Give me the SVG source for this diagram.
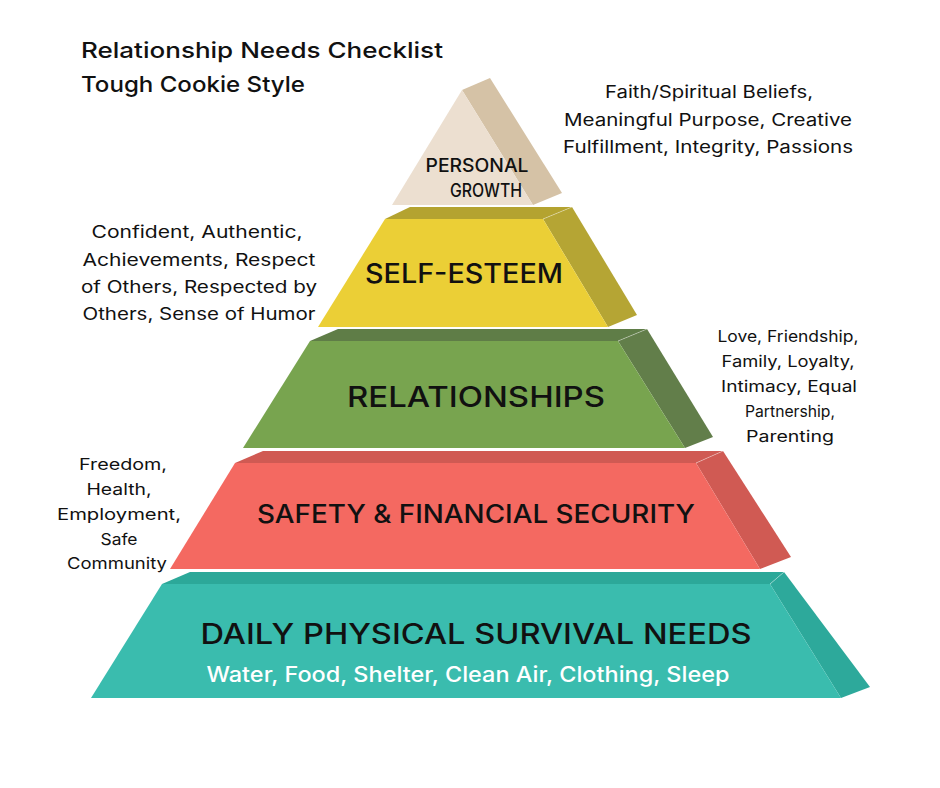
<svg xmlns="http://www.w3.org/2000/svg" width="940" height="788" viewBox="0 0 940 788">
<style>
text{font-family:Inter,"Open Sans","Liberation Sans",sans-serif;fill:#111;}
.t{font-size:22px;font-weight:500;}
.n{font-size:17px;font-weight:400;text-anchor:middle;}
.s{font-size:16px;font-weight:400;text-anchor:middle;}
.lab{font-weight:500;text-anchor:middle;}
.hl{stroke:#ffffff;stroke-opacity:0.35;stroke-width:1;fill:none;}
</style>
<rect width="940" height="788" fill="#ffffff"/>
<g id="title">
<text class="t" x="81" y="58" textLength="362" lengthAdjust="spacingAndGlyphs">Relationship Needs Checklist</text>
<text class="t" x="81" y="92" textLength="224" lengthAdjust="spacingAndGlyphs">Tough Cookie Style</text>
</g>
<g id="daily-survival">
<polygon points="162,584 190,572 784,572 770,584" fill="#2ca899"/>
<polygon points="770,584 784,572 870,687 841,698" fill="#2da99b"/>
<polygon points="162,584 770,584 841,698 91,698" fill="#3abcae"/>
<line class="hl" x1="770" y1="584" x2="784" y2="572"/>
<text class="lab" x="476" y="644" font-size="28" textLength="551" lengthAdjust="spacingAndGlyphs">DAILY PHYSICAL SURVIVAL NEEDS</text>
<text class="lab" x="468" y="682" font-size="21" font-weight="400" style="fill:#ffffff" textLength="523" lengthAdjust="spacingAndGlyphs">Water, Food, Shelter, Clean Air, Clothing, Sleep</text>
</g>
<g id="safety">
<polygon points="235,463 263,451 723,451 696,463" fill="#d05a53"/>
<polygon points="696,463 723,451 791,557 760,569" fill="#d05a53"/>
<polygon points="235,463 696,463 760,569 170,569" fill="#f46961"/>
<line class="hl" x1="696" y1="463" x2="723" y2="451"/>
<text class="lab" x="476" y="523" font-size="25" textLength="438" lengthAdjust="spacingAndGlyphs">SAFETY &amp; FINANCIAL SECURITY</text>
</g>
<g id="relationships">
<polygon points="310,341 338,329 647,329 618,341" fill="#5f7d47"/>
<polygon points="618,341 647,329 713,437 685,448" fill="#627e4a"/>
<polygon points="310,341 618,341 685,448 243,448" fill="#78a44f"/>
<line class="hl" x1="618" y1="341" x2="647" y2="329"/>
<text class="lab" x="476" y="407" font-size="29" textLength="258" lengthAdjust="spacingAndGlyphs">RELATIONSHIPS</text>
</g>
<g id="self-esteem">
<polygon points="385,219 410,207 572,207 543,219" fill="#b4a330"/>
<polygon points="543,219 572,207 637,315 608,327" fill="#b5a534"/>
<polygon points="385,219 543,219 608,327 318,327" fill="#ebcf36"/>
<line class="hl" x1="543" y1="219" x2="572" y2="207"/>
<text class="lab" x="464" y="283" font-size="27" textLength="198" lengthAdjust="spacingAndGlyphs">SELF-ESTEEM</text>
</g>
<g id="personal-growth">
<polygon points="462,90 490,78 562,193 533,205" fill="#d5c2a6"/>
<polygon points="462,90 533,205 392,205" fill="#ecdfd0"/>
<text class="lab" x="477" y="172" font-size="18" textLength="103" lengthAdjust="spacingAndGlyphs">PERSONAL</text>
<text class="lab" x="486" y="197" font-size="18" textLength="72" lengthAdjust="spacingAndGlyphs">GROWTH</text>
</g>
<g id="growth-notes">
<text class="n" x="709" y="98" textLength="208" lengthAdjust="spacingAndGlyphs">Faith/Spiritual Beliefs,</text>
<text class="n" x="708" y="126" textLength="288" lengthAdjust="spacingAndGlyphs">Meaningful Purpose, Creative</text>
<text class="n" x="708" y="153" textLength="290" lengthAdjust="spacingAndGlyphs">Fulfillment, Integrity, Passions</text>
</g>
<g id="esteem-notes">
<text class="n" x="197" y="238" textLength="211" lengthAdjust="spacingAndGlyphs">Confident, Authentic,</text>
<text class="n" x="199" y="266" textLength="233" lengthAdjust="spacingAndGlyphs">Achievements, Respect</text>
<text class="n" x="199" y="293" textLength="236" lengthAdjust="spacingAndGlyphs">of Others, Respected by</text>
<text class="n" x="199" y="320" textLength="233" lengthAdjust="spacingAndGlyphs">Others, Sense of Humor</text>
</g>
<g id="relationship-notes">
<text class="s" x="788" y="342" textLength="141" lengthAdjust="spacingAndGlyphs">Love, Friendship,</text>
<text class="s" x="788" y="367" textLength="133" lengthAdjust="spacingAndGlyphs">Family, Loyalty,</text>
<text class="s" x="789" y="392" textLength="136" lengthAdjust="spacingAndGlyphs">Intimacy, Equal</text>
<text class="s" x="790" y="417" textLength="90" lengthAdjust="spacingAndGlyphs">Partnership,</text>
<text class="s" x="790" y="442" textLength="88" lengthAdjust="spacingAndGlyphs">Parenting</text>
</g>
<g id="safety-notes">
<text class="s" x="123" y="470" textLength="88" lengthAdjust="spacingAndGlyphs">Freedom,</text>
<text class="s" x="119" y="495" textLength="65" lengthAdjust="spacingAndGlyphs">Health,</text>
<text class="s" x="119" y="520" textLength="124" lengthAdjust="spacingAndGlyphs">Employment,</text>
<text class="s" x="119" y="545" textLength="37" lengthAdjust="spacingAndGlyphs">Safe</text>
<text class="s" x="117" y="569" textLength="100" lengthAdjust="spacingAndGlyphs">Community</text>
</g>
</svg>
